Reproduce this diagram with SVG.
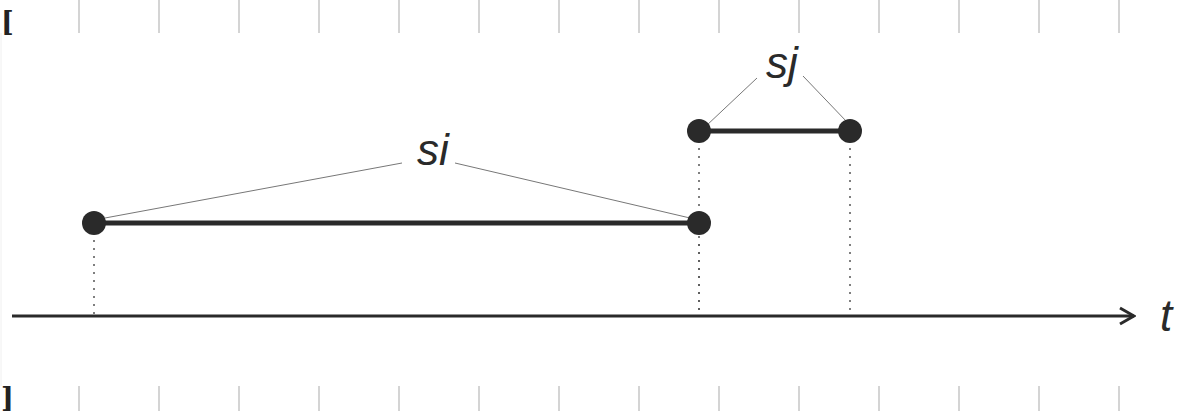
<svg xmlns="http://www.w3.org/2000/svg" width="1184" height="411" viewBox="0 0 1184 411">
<style>
.tick{stroke:#d4d4d4;stroke-width:2}
.brk{font-family:"DejaVu Serif",serif;font-size:27px;font-weight:bold;fill:#222}
.lbl{font-family:"Liberation Sans",Arial,sans-serif;font-style:italic;font-size:44px;fill:#2a2a2a}
.thin{stroke:#777;stroke-width:1;fill:none}
.dot{stroke:#555;stroke-width:1.5;stroke-dasharray:2 6;fill:none}
.seg{stroke:#2a2a2a;stroke-width:5;fill:none}
.pt{fill:#2a2a2a}
</style>
<defs>
<marker id="arr" viewBox="0 0 20 20" refX="18" refY="10" markerWidth="20" markerHeight="20" markerUnits="userSpaceOnUse" orient="auto">
<path d="M4 2 L18 10 L4 18" fill="none" stroke="#2a2a2a" stroke-width="3"/>
</marker>
</defs>
<g id="frame">
<line x1="1" y1="33" x2="1" y2="386" stroke="#f0f0f0" stroke-width="1"/>
<text class="brk" x="1" y="31">[</text>
<text class="brk" x="1" y="407">]</text>
<g id="ticks-top">
<line class="tick" x1="79" y1="0" x2="79" y2="33"/><line class="tick" x1="159" y1="0" x2="159" y2="33"/><line class="tick" x1="239" y1="0" x2="239" y2="33"/><line class="tick" x1="319" y1="0" x2="319" y2="33"/><line class="tick" x1="399" y1="0" x2="399" y2="33"/><line class="tick" x1="479" y1="0" x2="479" y2="33"/><line class="tick" x1="559" y1="0" x2="559" y2="33"/><line class="tick" x1="639" y1="0" x2="639" y2="33"/><line class="tick" x1="719" y1="0" x2="719" y2="33"/><line class="tick" x1="799" y1="0" x2="799" y2="33"/><line class="tick" x1="879" y1="0" x2="879" y2="33"/><line class="tick" x1="959" y1="0" x2="959" y2="33"/><line class="tick" x1="1039" y1="0" x2="1039" y2="33"/><line class="tick" x1="1119" y1="0" x2="1119" y2="33"/>
</g>
<g id="ticks-bottom">
<line class="tick" x1="79" y1="386" x2="79" y2="411"/><line class="tick" x1="159" y1="386" x2="159" y2="411"/><line class="tick" x1="239" y1="386" x2="239" y2="411"/><line class="tick" x1="319" y1="386" x2="319" y2="411"/><line class="tick" x1="399" y1="386" x2="399" y2="411"/><line class="tick" x1="479" y1="386" x2="479" y2="411"/><line class="tick" x1="559" y1="386" x2="559" y2="411"/><line class="tick" x1="639" y1="386" x2="639" y2="411"/><line class="tick" x1="719" y1="386" x2="719" y2="411"/><line class="tick" x1="799" y1="386" x2="799" y2="411"/><line class="tick" x1="879" y1="386" x2="879" y2="411"/><line class="tick" x1="959" y1="386" x2="959" y2="411"/><line class="tick" x1="1039" y1="386" x2="1039" y2="411"/><line class="tick" x1="1119" y1="386" x2="1119" y2="411"/>
</g>
</g>
<g id="connectors">
<line x1="12" y1="316" x2="1134" y2="316" stroke="#2a2a2a" stroke-width="3" marker-end="url(#arr)"/>
<line class="dot" x1="94" y1="240" x2="94" y2="314"/>
<line class="dot" x1="699" y1="148" x2="699" y2="314"/>
<line class="dot" x1="699" y1="240" x2="699" y2="314" stroke-dashoffset="4"/>
<line class="dot" x1="850" y1="148" x2="850" y2="314"/>
<line class="thin" x1="105" y1="218" x2="402" y2="163"/>
<line class="thin" x1="455" y1="163" x2="690" y2="218"/>
<line class="thin" x1="706" y1="126" x2="757" y2="78"/>
<line class="thin" x1="803" y1="76" x2="847" y2="122"/>
</g>
<g id="si">
<line class="seg" x1="94" y1="223" x2="699" y2="223"/>
<circle class="pt" cx="94" cy="223" r="12"/>
<circle class="pt" cx="699" cy="223" r="12"/>
<text class="lbl" x="433" y="165" text-anchor="middle">si</text>
</g>
<g id="sj">
<line class="seg" x1="699" y1="131" x2="850" y2="131"/>
<circle class="pt" cx="699" cy="131" r="12"/>
<circle class="pt" cx="850" cy="131" r="12"/>
<text class="lbl" x="782" y="78" text-anchor="middle">sj</text>
</g>
<g id="t-label">
<text class="lbl" x="1166" y="331" text-anchor="middle">t</text>
</g>
</svg>
